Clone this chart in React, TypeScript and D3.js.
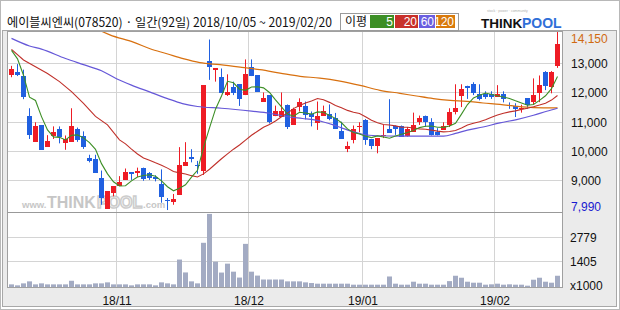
import React from 'react';
import * as d3 from 'd3';

// ---------- data ----------
const opens = [12600,12710,12560,11200,10320,10890,10150,10510,10750,10290,10320,10750,10530,9760,9730,9080,8030,8570,8810,9020,9290,9270,9420,9250,9130,8890,8340,8260,8510,9500,9820,9540,9310,13070,12790,12550,11920,12210,12290,11920,12890,12590,11700,11910,11220,11180,11570,10900,11500,11560,11260,10960,11210,11260,11130,10680,10080,10380,10820,11080,10410,10180,10540,10750,10850,10880,10530,10660,11000,11220,11010,10660,10730,10900,11330,11880,12240,12290,11950,11960,11960,11860,11960,11590,11550,11460,11810,11670,11980,12710,12190,12910];
const highs = [12920,12980,12790,11470,10990,10890,10550,10850,10850,10540,11470,10810,10680,9880,9880,9340,8640,8810,9150,9410,9290,9440,9440,9290,9180,9380,8400,8540,10140,10310,10070,9670,12250,13820,12830,12830,12630,12380,12290,13140,13140,12590,12010,11910,11560,12010,11600,11490,11810,11700,11360,11700,11560,11600,11310,11010,10330,10880,10990,11100,10410,10450,10900,11780,10880,10880,10830,11320,11220,11220,11130,10790,10990,11470,12290,12290,12240,12360,12290,12050,12050,12260,12050,11670,11640,11590,11810,12490,12590,12740,12740,14150];
const lows = [12530,12570,11780,10420,10320,10050,10150,10420,10270,10050,10320,10320,10080,9620,9260,8170,8030,8460,8810,9020,9020,9120,8990,9020,8970,8240,7990,8170,8510,9500,9620,9230,9190,12440,12380,11990,11890,11920,11550,11920,12570,12040,11700,10950,11200,11180,10760,10900,11360,11090,10850,10730,11210,11060,10760,10420,9970,10270,10650,10220,10070,9930,10450,10630,10560,10500,10500,10660,10900,10830,10540,10540,10730,10830,11260,11510,11790,11920,11740,11790,11790,11860,11670,11450,11170,11320,11450,11600,11680,12090,11980,12850];
const closes = [12810,12620,11840,10560,10850,10050,10340,10650,10490,10410,10850,10390,10150,9680,9260,8400,8640,8810,8960,9290,9230,9310,9060,9080,9050,8440,8310,8360,9520,9630,9740,9490,12250,12880,12830,11990,12010,11990,11790,12630,12570,12040,11810,10990,11370,11370,10830,11430,11670,11240,11170,11220,11370,11100,10760,10420,10170,10750,10850,10390,10180,10450,10570,10630,10760,10500,10750,10900,11130,11000,10540,10540,10870,11350,11470,12120,12170,12000,11800,11860,11860,11960,11790,11560,11450,11490,11580,11920,12250,12240,12700,13650];
const volumes = [148,93,204,316,148,204,148,148,148,148,350,148,148,148,204,204,260,148,148,148,93,148,148,148,93,260,204,148,1541,817,316,204,2480,4100,1420,810,1310,860,530,2420,860,640,420,420,420,420,316,316,316,260,223,186,186,186,186,186,186,130,130,130,130,130,130,590,186,130,130,297,186,186,130,130,130,330,631,520,297,241,241,130,150,186,130,150,130,130,74,409,520,297,241,631];

const monthLabels = ['18/11', '18/12', '19/01', '19/02'];
const monthStartIdx = [18, 40, 59, 81];
const priceTicks = [13000, 12000, 11000, 10000, 9000];
const volTicks = [2779, 1405];

const ma5Head = [13450, 13160, 12600, 11850];
const ma20Head: [number, number][] = [[0,13480],[2,13120],[4,12890],[6,12660],[8,12380],[10,12040],[12,11640],[14,11190],[16,10900],[18,10390]];
const ma60Pts: [number, number][] = [[0,13860],[3,13600],[5,13490],[9,13170],[12,12960],[15,12750],[17.5,12480],[20,12260],[23,12030],[26,11800],[28.5,11630],[31,11530],[35,11470],[40,11370],[43,11300],[46,11180],[48.5,11120],[50.5,11070],[52,11000],[53.5,10910],[55,10800],[56.75,10680],[58.5,10580],[61,10530],[64.75,10514],[72,10514],[74,10610],[76,10720],[78.6,10830],[81.4,10970],[84.2,11084],[87,11230],[89.2,11367],[91,11470]];
const ma120Pts: [number, number][] = [[14,14200],[16.4,13980],[20.3,13730],[23.1,13505],[25.9,13334],[28.6,13164],[31.4,13027],[34.75,12959],[38.1,12877],[41.4,12789],[44.75,12673],[48.1,12560],[51.4,12502],[54.75,12400],[58.1,12253],[61.4,12083],[64.75,11980],[67.5,11888],[70.3,11800],[73.1,11742],[75.9,11708],[78.6,11650],[81.4,11605],[84.2,11537],[87,11493],[91,11480]];

const legendLabels = ['5', '20', '60', '120'];
const legendColors = ['#3d8f26', '#c8302a', '#6a5ee0', '#d97a0c'];
const title = '에이블씨엔씨(078520) · 일간(92일) 2018/10/05 ~ 2019/02/20';

// ---------- layout ----------
const W = 620, H = 310;
const plotL = 7.5, plotR = 562.5, plotT = 31.5, priceB = 212.5, volB = 287.5;
const UP = '#ee1c25', DOWN = '#2060e0';
const MA_COLORS = { ma5: '#3d8f26', ma20: '#c0302a', ma60: '#6658d8', ma120: '#d8700f' };
const FONT = '"Liberation Sans", Arial, sans-serif';
const KFONT = '"Noto Sans CJK KR", "Liberation Sans", sans-serif';

export default function App() {
  const n = closes.length;
  const x = d3.scaleLinear().domain([0, n - 1]).range([11.5, 557.5]);
  const y = d3.scaleLinear().domain([9000, 13000]).range([180.5, 63.5]);
  const yv = d3.scaleLinear().domain([0, 4180]).range([287, 212.5]);
  const crisp = (v: number) => Math.round(v - 0.5) + 0.5;

  const ma5: [number, number][] = closes.map((c, i) => [i, i < 4 ? ma5Head[i] : (d3.mean(closes.slice(i - 4, i + 1)) as number)]);
  const ma20: [number, number][] = [
    ...ma20Head,
    ...closes.map((c, i) => [i, i < 19 ? NaN : (d3.mean(closes.slice(i - 19, i + 1)) as number)] as [number, number]).filter(d => !isNaN(d[1])),
  ];
  const line = d3.line<[number, number]>().x(d => x(d[0])).y(d => y(d[1]));
  const smooth = d3.line<[number, number]>().x(d => x(d[0])).y(d => y(d[1])).curve(d3.curveMonotoneX);

  const maxHigh = d3.max(highs) as number;
  const minLow = d3.min(lows) as number;
  const maxLabelY = Math.max(y(maxHigh), plotT + 7);
  const minLabelY = Math.min(y(minLow), priceB - 6);

  return (
    <div style={{ position: 'absolute', left: 0, top: 0 }}>
      <svg width={W} height={H} style={{ display: 'block' }}>
        <defs>
          <clipPath id="pclip">
            <rect x={plotL + 0.5} y={plotT + 0.5} width={plotR - plotL - 1} height={priceB - plotT - 1} />
          </clipPath>
        </defs>
        <rect x={0} y={0} width={W} height={H} fill="#ffffff" />
        <rect x={0.5} y={0.5} width={W - 1} height={H - 1} fill="none" stroke="#b8b8b8" />
        {/* grey frame */}
        <rect x={2.5} y={30.5} width={614} height={276} fill="#ebebeb" stroke="#a8a8a8" />
        <rect x={plotL} y={plotT} width={plotR - plotL} height={volB - plotT} fill="#ffffff" />

        {/* title */}
        <text x={7} y={27} fontFamily={KFONT} fontSize={12.5} fill="#111" textLength={325} lengthAdjust="spacingAndGlyphs">{title}</text>

        {/* legend */}
        <rect x={340.5} y={13.5} width={118} height={17} fill="#fff" stroke="#9a9a9a" />
        <text x={345} y={26} fontFamily={KFONT} fontSize={12} fill="#111">이평</text>
        {legendLabels.map((lab, i) => {
          const xs = [370, 395, 419, 436];
          const ws = [24, 23, 16, 19];
          return (
            <g key={lab}>
              <rect x={xs[i]} y={15} width={ws[i]} height={13} fill={legendColors[i]} />
              <text x={xs[i] + ws[i] - 1} y={26} textAnchor="end" fontFamily={FONT} fontSize={12} fill="#fff">{lab}</text>
            </g>
          );
        })}

        {/* logo */}
        <text x={487} y={12} fontFamily={FONT} fontSize={3.5} fill="#b0b0b0">stock · power · community</text>
        <text x={481} y={28} fontFamily={FONT} fontSize={13.5} fontWeight={900} fill="#111">THINK</text>
        <text x={522} y={28} fontFamily={FONT} fontSize={14} fontWeight={900} fill="#2f6fd8">POOL</text>

        {/* grid */}
        {priceTicks.map(t => (
          <line key={t} x1={plotL} x2={plotR} y1={crisp(y(t))} y2={crisp(y(t))} stroke="#d4d4d4" />
        ))}
        {volTicks.map(t => (
          <line key={t} x1={plotL} x2={plotR} y1={crisp(yv(t))} y2={crisp(yv(t))} stroke="#d4d4d4" />
        ))}
        {monthStartIdx.map(i => (
          <line key={i} x1={crisp(x(i) - 3)} x2={crisp(x(i) - 3)} y1={plotT} y2={volB} stroke="#d4d4d4" />
        ))}

        {/* watermark */}
        <g fontFamily={FONT} fontWeight={900} fill="#bdbdbd" opacity={0.85}>
          <text x={22} y={208} fontSize={9.5}>www.</text>
          <text x={47} y={208} fontSize={16}>THINK</text>
          <text x={97} y={208} fontSize={16} fill="#fff" stroke="#c4c4c4" strokeWidth={1.5}>POOL</text>
          <text x={143} y={208} fontSize={9.5}>.com</text>
        </g>

        {/* candles */}
        <g clipPath="url(#pclip)">
          {closes.map((c, i) => {
            const o = opens[i];
            const col = c > o ? UP : c < o ? DOWN : UP;
            const top = Math.round(y(Math.max(o, c)));
            const bot = Math.round(y(Math.min(o, c)));
            const cx = x(i);
            return (
              <g key={i}>
                <line x1={cx} x2={cx} y1={y(highs[i])} y2={y(lows[i])} stroke={col} strokeWidth={1} />
                <rect x={cx - 2.5} y={top} width={5} height={Math.max(1, bot - top)} fill={col} />
              </g>
            );
          })}
          <path d={smooth(ma120Pts) || ''} fill="none" stroke={MA_COLORS.ma120} strokeWidth={1.2} />
          <path d={smooth(ma60Pts) || ''} fill="none" stroke={MA_COLORS.ma60} strokeWidth={1.2} />
          <path d={line(ma20) || ''} fill="none" stroke={MA_COLORS.ma20} strokeWidth={1.1} />
          <path d={line(ma5) || ''} fill="none" stroke={MA_COLORS.ma5} strokeWidth={1.1} />
        </g>

        {/* volume */}
        {volumes.map((v, i) => (
          <rect key={i} x={x(i) - 2.5} y={yv(v)} width={5} height={287 - yv(v)} fill="#a3abc3" />
        ))}

        {/* plot borders */}
        <rect x={plotL} y={plotT} width={plotR - plotL} height={volB - plotT} fill="none" stroke="#a0a0a0" />
        <line x1={plotL} x2={plotR} y1={priceB} y2={priceB} stroke="#999" />

        {/* price labels */}
        {priceTicks.map(t => (
          <text key={t} x={571} y={y(t) + 4.5} fontFamily={FONT} fontSize={12} fill="#111">{d3.format(',')(t)}</text>
        ))}
        <text x={571} y={maxLabelY + 4.5} fontFamily={FONT} fontSize={12} fill="#d06a10">{d3.format(',')(maxHigh)}</text>
        <text x={571} y={minLabelY + 4.5} fontFamily={FONT} fontSize={12} fill="#1a1ad0">{d3.format(',')(minLow)}</text>

        {/* volume labels */}
        {volTicks.map(t => (
          <text key={t} x={570} y={yv(t) + 4.5} fontFamily={FONT} fontSize={12} fill="#111">{t}</text>
        ))}
        <text x={570} y={290} fontFamily={FONT} fontSize={12} fill="#111">x1000</text>

        {/* date labels */}
        {monthStartIdx.map((idx, k) => (
          <text key={idx} x={x(idx) - 2.5} y={305} textAnchor="middle" fontFamily={FONT} fontSize={12} fill="#111">{monthLabels[k]}</text>
        ))}
      </svg>
    </div>
  );
}
